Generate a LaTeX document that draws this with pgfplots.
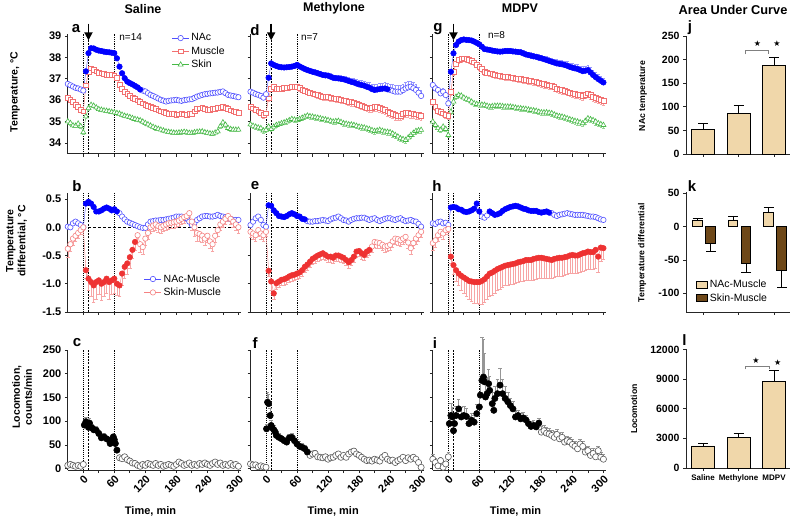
\documentclass[border=0pt]{standalone}
\usepackage{fontspec}
\setmainfont{Liberation Sans}
\newfontfamily\starfont{DejaVu Sans}
\usepackage{pgfplots}
\pgfplotsset{compat=1.18}
\usepackage{pgfplotstable}
\usetikzlibrary{arrows.meta}

\definecolor{nacB}{RGB}{0,0,255}
\definecolor{nacO}{RGB}{80,80,255}
\definecolor{musO}{RGB}{242,112,112}
\definecolor{skinO}{RGB}{70,185,70}
\definecolor{redF}{RGB}{238,50,50}
\definecolor{redO}{RGB}{245,130,130}
\definecolor{errR}{RGB}{247,165,165}
\definecolor{errB}{RGB}{150,150,255}
\definecolor{errG}{RGB}{150,215,150}
\definecolor{errK}{RGB}{150,150,150}
\definecolor{barTan}{RGB}{240,215,170}
\definecolor{barBrown}{RGB}{110,72,25}

% ---------------- temperature tables (mean and SEM) ----------------
\pgfplotstableread{
t nac mus skin ne me se
-30 36.76 36.10 35.01 0.06 0.08 0.08
-25 36.70 36.02 34.93 0.06 0.08 0.08
-20 36.64 35.94 34.82 0.06 0.08 0.08
-15 36.58 35.80 34.80 0.06 0.08 0.08
-10 36.55 35.70 34.90 0.06 0.08 0.08
-5 36.50 35.56 34.78 0.06 0.08 0.08
0 36.45 35.48 34.50 0.08 0.10 0.10
5 37.35 36.70 35.24 0.08 0.10 0.10
10 38.20 37.34 35.63 0.06 0.08 0.08
15 38.43 37.49 35.78 0.06 0.08 0.08
20 38.42 37.42 35.74 0.06 0.08 0.08
25 38.36 37.35 35.66 0.06 0.08 0.08
30 38.32 37.29 35.58 0.06 0.08 0.08
35 38.30 37.26 35.55 0.06 0.08 0.08
40 38.27 37.23 35.52 0.06 0.08 0.08
45 38.25 37.20 35.50 0.06 0.08 0.08
50 38.24 37.18 35.48 0.06 0.08 0.08
55 38.22 37.17 35.45 0.06 0.08 0.08
60 38.20 37.16 35.43 0.06 0.08 0.08
65 37.96 37.03 35.40 0.08 0.10 0.08
70 37.57 36.72 35.37 0.08 0.10 0.08
75 37.26 36.52 35.32 0.08 0.10 0.08
80 37.03 36.41 35.27 0.08 0.10 0.08
85 36.87 36.30 35.24 0.08 0.10 0.08
90 36.80 36.20 35.21 0.08 0.10 0.08
95 36.74 36.12 35.16 0.08 0.10 0.08
100 36.67 36.05 35.12 0.08 0.10 0.08
105 36.60 36.00 35.09 0.08 0.10 0.08
110 36.50 35.94 35.06 0.08 0.10 0.08
115 36.45 35.86 35.00 0.08 0.10 0.08
120 36.41 35.79 34.93 0.08 0.10 0.08
125 36.33 35.73 34.87 0.08 0.10 0.08
130 36.25 35.68 34.81 0.08 0.10 0.08
135 36.20 35.63 34.75 0.08 0.10 0.08
140 36.14 35.58 34.70 0.08 0.10 0.08
145 36.08 35.53 34.66 0.08 0.10 0.08
150 36.02 35.48 34.62 0.08 0.10 0.08
155 35.98 35.44 34.58 0.08 0.10 0.08
160 35.94 35.40 34.54 0.08 0.10 0.08
165 35.97 35.38 34.52 0.08 0.10 0.08
170 35.99 35.37 34.50 0.08 0.10 0.08
175 36.00 35.35 34.48 0.08 0.10 0.08
180 36.02 35.32 34.47 0.08 0.10 0.08
185 35.99 35.34 34.49 0.08 0.10 0.08
190 35.97 35.37 34.50 0.08 0.10 0.08
195 36.00 35.34 34.52 0.08 0.10 0.08
200 36.02 35.32 34.50 0.08 0.10 0.08
205 36.04 35.35 34.47 0.08 0.10 0.08
210 36.05 35.37 34.47 0.08 0.10 0.08
215 36.11 35.48 34.50 0.08 0.10 0.08
220 36.17 35.58 34.52 0.08 0.10 0.08
225 36.21 35.62 34.53 0.08 0.10 0.08
230 36.25 35.63 34.54 0.08 0.10 0.08
235 36.28 35.58 34.50 0.08 0.10 0.08
240 36.30 35.55 34.47 0.08 0.10 0.08
245 36.32 35.57 34.45 0.08 0.10 0.08
250 36.33 35.58 34.43 0.08 0.10 0.08
255 36.35 35.61 34.48 0.08 0.10 0.08
260 36.36 35.63 34.54 0.08 0.10 0.08
265 36.39 35.66 34.78 0.08 0.10 0.10
270 36.41 35.68 34.96 0.08 0.10 0.10
275 36.33 35.63 34.85 0.08 0.10 0.10
280 36.25 35.58 34.70 0.08 0.10 0.10
285 36.22 35.53 34.65 0.08 0.10 0.08
290 36.20 35.48 34.62 0.08 0.10 0.08
295 36.17 35.44 34.62 0.08 0.10 0.08
300 36.14 35.40 34.62 0.08 0.10 0.08
}\tsal

\pgfplotstableread{
t nac mus skin ne me se
-30 36.40 35.70 34.87 0.12 0.12 0.10
-25 36.35 35.62 34.80 0.12 0.12 0.10
-20 36.29 35.54 34.76 0.12 0.12 0.10
-15 36.25 35.48 34.72 0.12 0.12 0.10
-10 36.20 35.43 34.69 0.12 0.12 0.10
-5 36.12 35.30 34.58 0.12 0.12 0.10
0 36.28 35.39 34.61 0.12 0.12 0.10
5 37.05 36.09 34.76 0.10 0.12 0.10
10 37.72 36.55 34.65 0.10 0.12 0.10
15 37.65 36.63 34.76 0.10 0.12 0.10
20 37.60 36.55 34.84 0.10 0.12 0.10
25 37.56 36.55 34.88 0.10 0.12 0.10
30 37.54 36.55 34.92 0.10 0.12 0.10
35 37.53 36.57 34.96 0.10 0.12 0.10
40 37.54 36.58 35.00 0.10 0.12 0.10
45 37.55 36.60 35.06 0.10 0.12 0.10
50 37.57 36.63 35.12 0.10 0.12 0.10
55 37.60 36.63 35.09 0.10 0.12 0.10
60 37.65 36.63 35.07 0.10 0.12 0.10
65 37.58 36.57 35.12 0.12 0.14 0.12
70 37.52 36.50 35.18 0.12 0.14 0.12
75 37.46 36.45 35.23 0.12 0.14 0.12
80 37.41 36.40 35.28 0.12 0.14 0.12
85 37.37 36.36 35.25 0.12 0.14 0.12
90 37.33 36.32 35.23 0.12 0.15 0.12
95 37.30 36.28 35.20 0.12 0.15 0.12
100 37.26 36.24 35.18 0.12 0.15 0.12
105 37.22 36.20 35.15 0.13 0.15 0.12
110 37.18 36.16 35.12 0.13 0.15 0.12
115 37.16 36.16 35.10 0.13 0.15 0.12
120 37.15 36.16 35.07 0.13 0.15 0.12
125 37.10 36.12 35.03 0.14 0.15 0.12
130 37.05 36.09 35.00 0.14 0.15 0.12
135 37.03 36.07 35.02 0.14 0.15 0.12
140 37.02 36.06 35.03 0.15 0.16 0.12
145 37.00 36.03 34.98 0.15 0.16 0.12
150 36.98 36.00 34.92 0.16 0.16 0.12
155 36.94 35.96 34.90 0.17 0.17 0.12
160 36.90 35.93 34.87 0.18 0.17 0.12
165 36.86 35.91 34.86 0.18 0.17 0.12
170 36.83 35.90 34.84 0.19 0.18 0.12
175 36.78 35.85 34.80 0.20 0.18 0.13
180 36.74 35.80 34.76 0.20 0.18 0.13
185 36.71 35.75 34.74 0.21 0.18 0.13
190 36.68 35.70 34.72 0.22 0.19 0.13
195 36.63 35.66 34.68 0.22 0.19 0.13
200 36.59 35.62 34.65 0.23 0.19 0.13
205 36.52 35.66 34.60 0.24 0.20 0.14
210 36.48 35.70 34.56 0.25 0.20 0.14
215 36.50 35.68 34.58 0.25 0.20 0.14
220 36.52 35.65 34.61 0.26 0.20 0.14
225 36.54 35.60 34.57 0.27 0.21 0.14
230 36.55 35.54 34.53 0.28 0.21 0.14
235 36.51 35.48 34.52 0.28 0.21 0.15
240 36.48 35.43 34.50 0.28 0.22 0.15
245 36.44 35.36 34.44 0.29 0.22 0.15
250 36.40 35.30 34.37 0.30 0.22 0.15
255 36.40 35.29 34.30 0.30 0.22 0.15
260 36.40 35.28 34.22 0.30 0.22 0.15
265 36.47 35.35 34.18 0.29 0.22 0.15
270 36.55 35.43 34.14 0.28 0.22 0.15
275 36.60 35.41 34.25 0.27 0.22 0.15
280 36.63 35.39 34.37 0.26 0.22 0.15
285 36.56 35.36 34.47 0.26 0.22 0.15
290 36.48 35.34 34.56 0.25 0.22 0.15
295 36.35 35.31 34.59 0.25 0.22 0.15
300 36.20 35.28 34.61 0.25 0.22 0.15
}\tmet

\pgfplotstableread{
t nac mus skin ne me se
-30 36.71 35.93 35.00 0.15 0.15 0.12
-25 36.55 35.70 34.84 0.15 0.15 0.12
-20 36.48 35.50 34.69 0.15 0.15 0.12
-15 36.32 35.45 34.61 0.15 0.15 0.12
-10 36.40 35.39 34.76 0.15 0.15 0.12
-5 36.24 35.31 34.65 0.15 0.15 0.12
0 35.85 35.28 34.37 0.15 0.15 0.12
5 37.33 36.40 35.46 0.12 0.15 0.12
10 38.19 37.33 35.93 0.10 0.15 0.12
15 38.58 37.72 36.16 0.10 0.15 0.12
20 38.74 37.88 36.24 0.10 0.15 0.12
25 38.81 37.94 36.21 0.10 0.15 0.12
30 38.84 37.96 36.12 0.10 0.15 0.12
35 38.82 37.92 36.06 0.10 0.15 0.12
40 38.81 37.88 36.01 0.10 0.15 0.12
45 38.79 37.83 35.93 0.10 0.15 0.12
50 38.74 37.77 35.85 0.10 0.15 0.12
55 38.68 37.67 35.82 0.10 0.15 0.12
60 38.61 37.57 35.80 0.10 0.15 0.12
65 38.50 37.45 35.79 0.10 0.15 0.12
70 38.39 37.33 35.78 0.10 0.15 0.12
75 38.37 37.30 35.74 0.10 0.15 0.12
80 38.35 37.26 35.70 0.10 0.15 0.12
85 38.32 37.22 35.72 0.10 0.15 0.12
90 38.30 37.18 35.74 0.10 0.15 0.12
95 38.28 37.16 35.74 0.10 0.15 0.12
100 38.27 37.15 35.74 0.10 0.15 0.12
105 38.28 37.12 35.72 0.11 0.15 0.12
110 38.30 37.10 35.70 0.11 0.15 0.12
115 38.30 37.08 35.70 0.11 0.15 0.12
120 38.30 37.07 35.70 0.11 0.15 0.12
125 38.28 37.05 35.68 0.12 0.15 0.12
130 38.27 37.02 35.65 0.12 0.15 0.12
135 38.25 37.00 35.63 0.12 0.15 0.12
140 38.24 36.99 35.62 0.12 0.15 0.12
145 38.19 36.96 35.60 0.13 0.15 0.12
150 38.14 36.94 35.59 0.13 0.16 0.12
155 38.11 36.92 35.56 0.13 0.16 0.12
160 38.08 36.90 35.54 0.14 0.16 0.12
165 38.05 36.88 35.52 0.14 0.16 0.12
170 38.03 36.87 35.50 0.14 0.16 0.12
175 37.99 36.83 35.46 0.15 0.16 0.13
180 37.96 36.79 35.43 0.15 0.17 0.13
185 37.92 36.75 35.43 0.15 0.17 0.13
190 37.88 36.71 35.43 0.16 0.17 0.13
195 37.84 36.70 35.41 0.16 0.17 0.13
200 37.80 36.68 35.39 0.17 0.17 0.13
205 37.76 36.62 35.33 0.17 0.18 0.14
210 37.72 36.55 35.28 0.18 0.18 0.14
215 37.70 36.51 35.25 0.18 0.18 0.14
220 37.68 36.48 35.23 0.18 0.18 0.14
225 37.65 36.44 35.19 0.19 0.18 0.14
230 37.61 36.40 35.15 0.19 0.18 0.14
235 37.56 36.36 35.11 0.19 0.18 0.14
240 37.52 36.32 35.07 0.20 0.19 0.14
245 37.49 36.30 35.03 0.20 0.19 0.14
250 37.46 36.27 35.00 0.20 0.19 0.15
255 37.41 36.24 34.96 0.20 0.19 0.15
260 37.36 36.21 34.92 0.21 0.19 0.15
265 37.38 36.26 35.03 0.21 0.19 0.15
270 37.41 36.32 35.15 0.21 0.20 0.15
275 37.30 36.24 35.11 0.22 0.20 0.15
280 37.18 36.16 35.07 0.22 0.20 0.15
285 37.08 36.11 35.00 0.22 0.20 0.15
290 36.99 36.06 34.92 0.22 0.20 0.15
295 36.91 36.01 34.88 0.22 0.20 0.15
300 36.83 35.96 34.84 0.22 0.20 0.15
}\tmdp

% ---------------- differential tables ----------------
\pgfplotstableread{
t nm sm sme
-30 0.01 -0.38 0.15
-25 0.00 -0.30 0.12
-20 0.07 -0.20 0.12
-15 0.10 -0.15 0.10
-10 0.07 -0.10 0.10
-5 0.04 -0.05 0.08
0 0.00 0.00 0.05
5 0.42 -0.76 0.15
10 0.45 -0.91 0.20
15 0.42 -0.97 0.25
20 0.36 -1.03 0.30
25 0.28 -0.97 0.30
30 0.28 -0.94 0.25
35 0.30 -1.00 0.30
40 0.33 -0.97 0.25
45 0.35 -0.91 0.25
50 0.33 -0.97 0.30
55 0.30 -0.94 0.25
60 0.32 -0.91 0.25
65 0.28 -1.00 0.20
70 0.25 -1.03 0.20
75 0.19 -0.82 0.20
80 0.14 -0.70 0.20
85 0.10 -0.64 0.20
90 0.08 -0.53 0.20
95 0.06 -0.40 0.15
100 0.04 -0.26 0.15
105 0.02 -0.14 0.15
110 0.00 -0.30 0.15
115 -0.01 -0.35 0.12
120 -0.01 -0.20 0.12
125 0.05 -0.10 0.12
130 0.10 0.00 0.10
135 0.11 0.03 0.10
140 0.12 0.05 0.10
145 0.12 0.02 0.10
150 0.13 0.00 0.10
155 0.13 0.03 0.10
160 0.14 0.05 0.10
165 0.15 0.07 0.10
170 0.16 0.08 0.10
175 0.17 0.09 0.10
180 0.19 0.10 0.10
185 0.19 0.12 0.10
190 0.19 0.15 0.10
195 0.17 0.18 0.10
200 0.16 0.20 0.10
205 0.10 0.25 0.10
210 0.04 0.10 0.15
215 0.08 0.00 0.15
220 0.13 -0.10 0.15
225 0.16 -0.12 0.12
230 0.19 -0.15 0.12
235 0.20 -0.20 0.12
240 0.20 -0.15 0.12
245 0.19 -0.25 0.12
250 0.19 -0.30 0.12
255 0.20 -0.15 0.12
260 0.22 -0.05 0.10
265 0.20 0.05 0.10
270 0.19 0.10 0.10
275 0.18 0.15 0.10
280 0.16 0.20 0.10
285 0.15 0.15 0.10
290 0.13 0.10 0.10
295 0.13 0.05 0.10
300 0.13 0.00 0.10
}\dsal

\pgfplotstableread{
t nm sm sme
-30 0.04 -0.08 0.10
-25 0.10 -0.11 0.10
-20 0.16 -0.14 0.10
-15 0.19 -0.05 0.10
-10 0.13 -0.11 0.10
-5 0.04 -0.14 0.10
0 0.01 -0.08 0.08
5 0.39 -0.77 0.10
10 0.38 -0.96 0.15
15 0.30 -1.17 0.10
20 0.25 -0.99 0.10
25 0.20 -0.96 0.10
30 0.19 -0.93 0.10
35 0.18 -0.92 0.10
40 0.20 -0.90 0.10
45 0.23 -0.87 0.10
50 0.25 -0.85 0.10
55 0.23 -0.84 0.10
60 0.20 -0.82 0.10
65 0.19 -0.80 0.10
70 0.15 -0.76 0.10
75 0.14 -0.70 0.10
80 0.11 -0.66 0.10
85 0.10 -0.61 0.10
90 0.10 -0.56 0.10
95 0.11 -0.53 0.10
100 0.11 -0.50 0.10
105 0.12 -0.48 0.10
110 0.13 -0.46 0.10
115 0.12 -0.49 0.10
120 0.11 -0.52 0.10
125 0.14 -0.52 0.10
130 0.16 -0.54 0.10
135 0.17 -0.50 0.10
140 0.19 -0.50 0.10
145 0.16 -0.52 0.10
150 0.13 -0.54 0.10
155 0.12 -0.58 0.10
160 0.10 -0.62 0.10
165 0.13 -0.58 0.10
170 0.15 -0.52 0.10
175 0.16 -0.43 0.10
180 0.16 -0.42 0.10
185 0.17 -0.46 0.10
190 0.17 -0.49 0.10
195 0.15 -0.43 0.10
200 0.13 -0.40 0.10
205 0.15 -0.34 0.10
210 0.16 -0.26 0.10
215 0.13 -0.27 0.10
220 0.11 -0.28 0.10
225 0.13 -0.31 0.10
230 0.15 -0.34 0.10
235 0.16 -0.33 0.10
240 0.16 -0.31 0.10
245 0.14 -0.25 0.10
250 0.13 -0.20 0.10
255 0.15 -0.21 0.10
260 0.16 -0.23 0.10
265 0.13 -0.20 0.10
270 0.11 -0.17 0.10
275 0.12 -0.27 0.10
280 0.13 -0.37 0.10
285 0.11 -0.28 0.10
290 0.10 -0.20 0.10
295 0.06 -0.14 0.10
300 0.01 -0.08 0.10
}\dmet

\pgfplotstableread{
t nm sm sme
-30 0.07 -0.28 0.12
-25 0.06 -0.23 0.12
-20 0.09 -0.14 0.10
-15 0.10 -0.08 0.10
-10 0.07 -0.11 0.10
-5 0.08 -0.05 0.08
0 0.04 -0.03 0.05
5 0.35 -0.52 0.12
10 0.36 -0.67 0.16
15 0.35 -0.76 0.19
20 0.32 -0.82 0.21
25 0.31 -0.86 0.25
30 0.28 -0.89 0.28
35 0.27 -0.92 0.31
40 0.28 -0.95 0.33
45 0.30 -0.96 0.35
50 0.33 -0.97 0.37
55 0.42 -0.97 0.38
60 0.28 -0.97 0.40
65 0.19 -0.95 0.41
70 0.17 -0.92 0.41
75 0.21 -0.87 0.41
80 0.28 -0.82 0.41
85 0.25 -0.80 0.40
90 0.22 -0.77 0.39
95 0.23 -0.74 0.38
100 0.25 -0.72 0.37
105 0.29 -0.70 0.36
110 0.32 -0.68 0.35
115 0.34 -0.67 0.35
120 0.36 -0.66 0.35
125 0.37 -0.65 0.35
130 0.38 -0.64 0.35
135 0.37 -0.62 0.35
140 0.35 -0.61 0.35
145 0.33 -0.60 0.35
150 0.32 -0.58 0.35
155 0.30 -0.58 0.36
160 0.29 -0.58 0.36
165 0.29 -0.56 0.37
170 0.29 -0.55 0.37
175 0.27 -0.54 0.37
180 0.26 -0.54 0.37
185 0.27 -0.55 0.36
190 0.28 -0.56 0.35
195 0.26 -0.57 0.34
200 0.25 -0.58 0.33
205 0.22 -0.56 0.32
210 0.20 -0.55 0.32
215 0.22 -0.54 0.32
220 0.23 -0.54 0.32
225 0.24 -0.53 0.32
230 0.25 -0.52 0.32
235 0.24 -0.50 0.32
240 0.23 -0.49 0.32
245 0.22 -0.50 0.32
250 0.22 -0.50 0.32
255 0.22 -0.48 0.31
260 0.22 -0.46 0.31
265 0.21 -0.45 0.31
270 0.20 -0.43 0.31
275 0.19 -0.44 0.31
280 0.19 -0.44 0.31
285 0.18 -0.40 0.32
290 0.16 -0.52 0.28
295 0.14 -0.36 0.25
300 0.13 -0.37 0.20
}\dmdp

% ---------------- locomotion tables ----------------
\pgfplotstableread{
t loc e
-30 7 3
-25 9 3
-20 7 3
-15 5 2
-10 7 2
-5 5 2
0 9 3
2 92 8
5 99 10
8 92 8
10 87 8
12 96 10
15 87 8
18 85 8
20 82 8
25 81 8
30 74 8
35 65 8
40 67 8
45 63 6
50 60 6
52 53 6
55 56 6
58 67 6
60 61 6
62 53 6
65 39 6
70 23 6
75 21 5
80 25 5
85 19 5
90 16 5
95 12 5
100 11 4
105 7 3
110 5 3
115 9 3
120 7 3
125 11 4
130 9 3
135 7 3
140 11 4
145 7 3
150 9 3
155 5 3
160 7 3
165 9 3
170 7 3
175 5 3
180 9 3
185 14 4
190 11 4
195 7 3
200 9 3
205 12 4
210 7 3
215 9 3
220 7 3
225 11 4
230 9 3
235 12 4
240 9 3
245 7 3
250 11 4
255 14 4
260 9 3
265 12 4
270 7 3
275 9 3
280 7 3
285 11 4
290 7 3
295 9 3
300 5 3
}\lsal

\pgfplotstableread{
t loc e
-30 10 3
-25 8 3
-20 8 3
-15 4 2
-10 6 2
-5 4 2
0 3 2
1 84 10
3 140 20
5 137 20
8 112 15
10 91 10
12 86 10
15 82 10
18 77 8
20 70 8
25 66 8
30 63 8
35 59 8
40 56 8
45 65 8
50 66 8
55 59 10
60 52 10
65 47 10
70 45 8
75 42 8
80 35 6
85 28 6
90 31 6
95 32 6
100 25 6
105 24 5
110 23 5
115 25 5
120 20 5
125 23 5
130 24 5
135 28 5
140 31 5
145 24 5
150 28 5
155 24 5
160 31 5
165 35 5
170 37 5
175 31 5
180 28 5
185 24 5
190 20 5
195 17 4
200 18 4
205 16 4
210 20 5
215 18 4
220 16 4
225 24 5
230 28 5
235 20 4
240 17 4
245 18 4
250 13 4
255 17 4
260 20 4
265 24 5
270 17 4
275 23 5
280 20 4
285 24 5
290 20 4
295 13 4
300 3 3
}\lmet

\pgfplotstableread{
t loc e
-30 20 10
-25 13 8
-20 6 5
-15 17 8
-10 3 4
-5 10 6
0 25 10
2 95 20
5 112 25
8 109 20
10 80 15
12 95 15
15 112 20
20 126 20
25 109 20
30 112 20
35 110 18
40 95 15
45 102 15
50 98 15
55 116 20
60 130 25
62 155 40
65 186 90
68 193 80
70 183 60
72 151 40
75 158 35
78 179 30
80 165 30
85 137 25
88 123 20
90 148 25
95 158 30
100 176 35
105 158 30
110 148 25
115 141 20
120 133 15
125 126 15
130 109 12
135 112 12
140 105 12
145 107 12
150 103 10
155 95 10
160 89 10
165 91 10
170 88 10
175 96 10
180 77 12
185 80 12
190 75 12
195 73 12
200 70 12
205 66 12
210 72 12
215 63 12
220 66 10
225 56 10
230 59 10
235 56 10
240 51 10
245 47 10
250 42 10
255 52 10
260 47 10
265 35 10
270 38 10
275 28 10
280 32 10
285 25 10
290 38 10
295 24 10
300 20 10
}\lmdp

\pgfplotsset{
  every axis/.append style={
    scale only axis, axis x line*=bottom, axis y line*=left,
    axis line style={-, line width=0.8pt, black!85},
    tick align=outside, major tick length=3pt, minor tick length=3pt,
    tick style={line width=0.8pt, black!85},
    clip=false,
    tick label style={font=\fontsize{11}{12}\selectfont\bfseries},
  },
  ts/.style={width=173.2pt, xmin=-30, xmax=305,
    xtick={0,60,...,300}, minor xtick={30,90,...,270}, xticklabels={}},
  row1/.style={height=119.8pt, ymin=33.5, ymax=39.1, ytick={34,35,...,39}},
  row2/.style={height=118.6pt, ymin=-1.5, ymax=0.6, ytick={-1.5,-1,-0.5,0,0.5}},
  row3/.style={height=120.1pt, ymin=-3, ymax=250, ytick={0,50,...,250},
    xticklabels={0,60,120,180,240,300},
    xticklabel style={rotate=45, anchor=north east, inner sep=1pt}},
  noyl/.style={yticklabels={}},
  terr/.style n args={2}{error bars/.cd, y dir=#1, y explicit,
    error bar style={#2, line width=0.45pt},
    error mark options={rotate=90, #2, line width=0.45pt, mark size=1.3pt}},
  nacopen/.style={color=nacO, line width=0.4pt, mark=*, mark size=2.7pt,
    mark options={fill=white, draw=nacO, line width=0.6pt}},
  nacfill/.style={only marks, color=nacB, mark=*, mark size=2.7pt, forget plot},
  musopen/.style={color=musO, line width=0.4pt, mark=square*, mark size=2.4pt,
    mark options={fill=white, draw=musO, line width=0.6pt}},
  skinopen/.style={color=skinO, line width=0.4pt, mark=triangle*, mark size=2.9pt,
    mark options={fill=white, draw=skinO, line width=0.6pt}},
  smopen/.style={color=redO, line width=0.4pt, mark=*, mark size=2.7pt,
    mark options={fill=white, draw=redO, line width=0.6pt},
    error bars/.cd, y dir=minus, y explicit,
    error bar style={errR, line width=0.5pt},
    error mark options={rotate=90, errR, line width=0.5pt, mark size=1.8pt}},
  smfill/.style={only marks, color=redF, mark=*, mark size=2.7pt, forget plot},
  locopen/.style={only marks, mark=*, mark size=3.1pt,
    mark options={fill=white, draw=black!65, line width=0.6pt},
    error bars/.cd, y dir=plus, y explicit,
    error bar style={errK, line width=0.5pt},
    error mark options={rotate=90, errK, line width=0.5pt, mark size=1.8pt}},
  locfill/.style={only marks, mark=*, mark size=3.1pt, color=black, forget plot},
  barax/.style={width=104pt, xmin=-0.48, xmax=2.45, xtick={0,1,2},
    scaled y ticks=false,
    tick label style={font=\fontsize{10.5}{12}\selectfont\bfseries}},
  barerr/.style={error bars/.cd, y dir=#1, y explicit,
    error bar style={black, line width=0.9pt, solid},
    error mark options={rotate=90, black, line width=0.9pt, mark size=5pt}},
}

\newcommand{\vl}{%
  \draw[densely dotted, line width=0.9pt] ({axis cs:0,0}|-{rel axis cs:0,0}) -- ({axis cs:0,0}|-{rel axis cs:0,1});
  \draw[dash pattern=on 2pt off 1.2pt, line width=1.3pt] ({axis cs:10,0}|-{rel axis cs:0,0}) -- ({axis cs:10,0}|-{rel axis cs:0,1});
  \draw[densely dotted, line width=0.9pt] ({axis cs:60,0}|-{rel axis cs:0,0}) -- ({axis cs:60,0}|-{rel axis cs:0,1});
}
\newcommand{\arr}{%
  \draw[line width=1.8pt, -{Triangle[width=8pt,length=8pt]}] (axis cs:10,39.58) -- (axis cs:10,38.80);
}
\newcommand{\hz}{%
  \draw[dash pattern=on 3pt off 2pt, line width=0.9pt] (axis cs:10,0) -- (axis cs:305,0);
}
% temperature panel: skin, muscle, NAc with SEM bars
\newcommand{\tpanel}[2]{%
  \addplot[skinopen, terr={minus}{errG}] table[x=t,y=skin,y error=se]{#1};
  \addplot[musopen, terr={minus}{errR}] table[x=t,y=mus,y error=me]{#1};
  \addplot[nacopen, terr={plus}{errB}] table[x=t,y=nac,y error=ne]{#1};
  \addplot[nacfill, restrict x to domain=#2] table[x=t,y=nac]{#1};
}

\begin{document}
\begin{tikzpicture}[x=1pt,y=1pt]
\useasboundingbox (0,0) rectangle (794,519);

% ================= Row 1: temperature =================
\begin{axis}[ts,row1, at={(67.8pt,365.3pt)}, anchor=south west,
  yticklabels={34,35,36,37,38,39},
  legend style={at={(0.6,1.02)}, anchor=north west, draw=none, fill=none,
    font=\fontsize{10.5}{12}\selectfont, inner sep=0pt, row sep=0.3pt},
  legend cell align=left, reverse legend]
\vl
\tpanel{\tsal}{1:112}
\legend{Skin,Muscle,NAc}
\arr
\node[anchor=west, font=\fontsize{10}{11}\selectfont] at (axis cs:63,38.97) {n=14};
\end{axis}

\begin{axis}[ts,row1,noyl, at={(250.5pt,365.3pt)}, anchor=south west]
\vl
\tpanel{\tmet}{1:235}
\arr
\node[anchor=west, font=\fontsize{10}{11}\selectfont] at (axis cs:61,38.93) {n=7};
\end{axis}

\begin{axis}[ts,row1,noyl, at={(432.8pt,365.3pt)}, anchor=south west]
\vl
\tpanel{\tmdp}{1:305}
\arr
\node[anchor=west, font=\fontsize{10}{11}\selectfont] at (axis cs:70,39.05) {n=8};
\end{axis}

% ================= Row 2: differential =================
\begin{axis}[ts,row2, at={(67.8pt,207pt)}, anchor=south west,
  yticklabels={-1.5,-1.0,-0.5,0.0,0.5},
  legend style={at={(0.44,0.335)}, anchor=north west, draw=none, fill=none,
    font=\fontsize{10.5}{12}\selectfont, inner sep=0pt, row sep=0.3pt},
  legend cell align=left]
\vl \hz
\addplot[nacopen] table[x=t,y=nm]{\dsal};
\addplot[smopen] table[x=t,y=sm,y error=sme]{\dsal};
\addplot[nacfill, restrict x to domain=1:66] table[x=t,y=nm]{\dsal};
\addplot[smfill, restrict x to domain=1:101] table[x=t,y=sm]{\dsal};
\legend{NAc-Muscle,Skin-Muscle}
\end{axis}

\begin{axis}[ts,row2,noyl, at={(250.5pt,207pt)}, anchor=south west]
\vl \hz
\addplot[nacopen] table[x=t,y=nm]{\dmet};
\addplot[smopen] table[x=t,y=sm,y error=sme]{\dmet};
\addplot[nacfill, restrict x to domain=1:76] table[x=t,y=nm]{\dmet};
\addplot[smfill, restrict x to domain=1:203] table[x=t,y=sm]{\dmet};
\end{axis}

\begin{axis}[ts,row2,noyl, at={(432.8pt,207pt)}, anchor=south west]
\vl \hz
\addplot[nacopen] table[x=t,y=nm]{\dmdp};
\addplot[smopen] table[x=t,y=sm,y error=sme]{\dmdp};
\addplot[nacfill, restrict x to domain=1:62] table[x=t,y=nm]{\dmdp};
\addplot[nacfill, restrict x to domain=78:196] table[x=t,y=nm]{\dmdp};
\addplot[smfill, restrict x to domain=1:305] table[x=t,y=sm]{\dmdp};
\end{axis}

% ================= Row 3: locomotion =================
\begin{axis}[ts,row3, at={(67.8pt,48.9pt)}, anchor=south west,
  yticklabels={0,50,100,150,200,250}]
\vl
\addplot[locopen] table[x=t,y=loc,y error=e]{\lsal};
\addplot[locfill, restrict x to domain=1:66] table[x=t,y=loc]{\lsal};
\end{axis}

\begin{axis}[ts,row3,noyl, at={(250.5pt,48.9pt)}, anchor=south west]
\vl
\addplot[locopen] table[x=t,y=loc,y error=e]{\lmet};
\addplot[locfill, restrict x to domain=1:81] table[x=t,y=loc]{\lmet};
\end{axis}

\begin{axis}[ts,row3,noyl, at={(432.8pt,48.9pt)}, anchor=south west]
\vl
\addplot[locopen] table[x=t,y=loc,y error=e]{\lmdp};
\addplot[locfill, restrict x to domain=1:177] table[x=t,y=loc]{\lmdp};
\end{axis}

% ================= Bars =================
\begin{axis}[barax, ybar, bar width=23pt, at={(686pt,365pt)}, anchor=south west, height=118pt,
  ymin=0, ymax=250, ytick={0,50,...,250}, yticklabels={0,50,100,150,200,250},
  xticklabels={}]
\addplot[fill=barTan, draw=black, line width=0.9pt, barerr=plus]
  coordinates {(0,52) +- (0,13) (1,86) +- (0,17.6) (2,188) +- (0,17.6)};
\draw[gray, line width=0.7pt] (axis cs:1.19,211) -- (axis cs:1.19,220) -- (axis cs:1.85,220) -- (axis cs:1.85,211);
\node[font=\starfont\fontsize{8}{8}\selectfont] at (axis cs:1.53,233) {★};
\node[font=\starfont\fontsize{8}{8}\selectfont] at (axis cs:2.08,233) {★};
\end{axis}

\begin{axis}[barax, ybar, bar width=9.5pt, at={(686pt,207pt)}, anchor=south west, height=120pt,
  ymin=-128, ymax=52, ytick={-100,-50,0,50}, yticklabels={-100,-50,0,50},
  xticklabels={},
  legend style={at={(0.09,0.285)}, anchor=north west, draw=none, fill=none,
    font=\fontsize{10.5}{12}\selectfont, inner sep=0pt, row sep=0.5pt},
  legend cell align=left,
  legend image code/.code={\draw[#1, line width=0.8pt] (0pt,-3.6pt) rectangle (11.5pt,3.6pt);}]
\addplot[bar shift=-5.5pt, fill=barTan, draw=black, line width=0.8pt, barerr=plus]
  coordinates {(0,9.4) +- (0,3.5) (1,10) +- (0,6) (2,21.4) +- (0,7.5)};
\addplot[bar shift=7.5pt, fill=barBrown, draw=black, line width=0.8pt, barerr=minus]
  coordinates {(0,-25.3) +- (0,11.5) (1,-55) +- (0,13) (2,-65) +- (0,26)};
\legend{NAc-Muscle,Skin-Muscle}
\end{axis}

\begin{axis}[barax, ybar, bar width=23pt, at={(686pt,51pt)}, anchor=south west, height=118.5pt,
  ymin=0, ymax=12000, ytick={0,3000,...,12000}, yticklabels={0,3000,6000,9000,12000},
  xticklabels={Saline,Methylone,MDPV},
  xticklabel style={font=\fontsize{8}{9}\selectfont\bfseries}]
\addplot[fill=barTan, draw=black, line width=0.9pt, barerr=plus]
  coordinates {(0,2230) +- (0,300) (1,3110) +- (0,370) (2,8720) +- (0,1180)};
\draw[gray, line width=0.7pt] (axis cs:1.18,9990) -- (axis cs:1.18,10330) -- (axis cs:1.87,10330) -- (axis cs:1.87,9990);
\node[font=\starfont\fontsize{8}{8}\selectfont] at (axis cs:1.49,10870) {★};
\node[font=\starfont\fontsize{8}{8}\selectfont] at (axis cs:2.1,10670) {★};
\end{axis}

% ================= Text =================
\begin{scope}[every node/.style={font=\fontsize{12.5}{14}\selectfont\bfseries}]
\node at (143,510) {Saline};
\node at (334,511) {Methylone};
\node at (520,511) {MDPV};
\node[font=\fontsize{12.8}{14}\selectfont\bfseries] at (733,509) {Area Under Curve};
\end{scope}

\begin{scope}[every node/.style={font=\fontsize{15}{16}\selectfont\bfseries}]
\node at (76,490) {a};
\node at (77,333) {b};
\node at (77,176) {c};
\node at (255,489) {d};
\node at (255,333) {e};
\node at (255,176) {f};
\node at (438,490) {g};
\node at (437,333) {h};
\node at (435,176) {i};
\node at (690,491) {j};
\node at (692,333) {k};
\node at (684.5,179) {l};
\end{scope}

\begin{scope}[every node/.style={font=\fontsize{10.5}{12}\selectfont\bfseries, rotate=90, align=center}]
\node at (15,427) {Temperature, °C};
\node at (16.7,278) {Temperature\\differential, °C};
\node at (22.3,122) {Locomotion,\\counts/min};
\end{scope}

\begin{scope}[every node/.style={font=\fontsize{8.7}{10}\selectfont\bfseries, rotate=90}]
\node at (643,423) {NAc temperature};
\node at (642,266) {Temperature differential};
\node at (634,110) {Locomotion};
\end{scope}

\begin{scope}[every node/.style={font=\fontsize{11}{12}\selectfont\bfseries}]
\node at (150.5,7.3) {Time, min};
\node at (333.2,7.3) {Time, min};
\node at (515.5,7.3) {Time, min};
\end{scope}

\end{tikzpicture}
\end{document}
